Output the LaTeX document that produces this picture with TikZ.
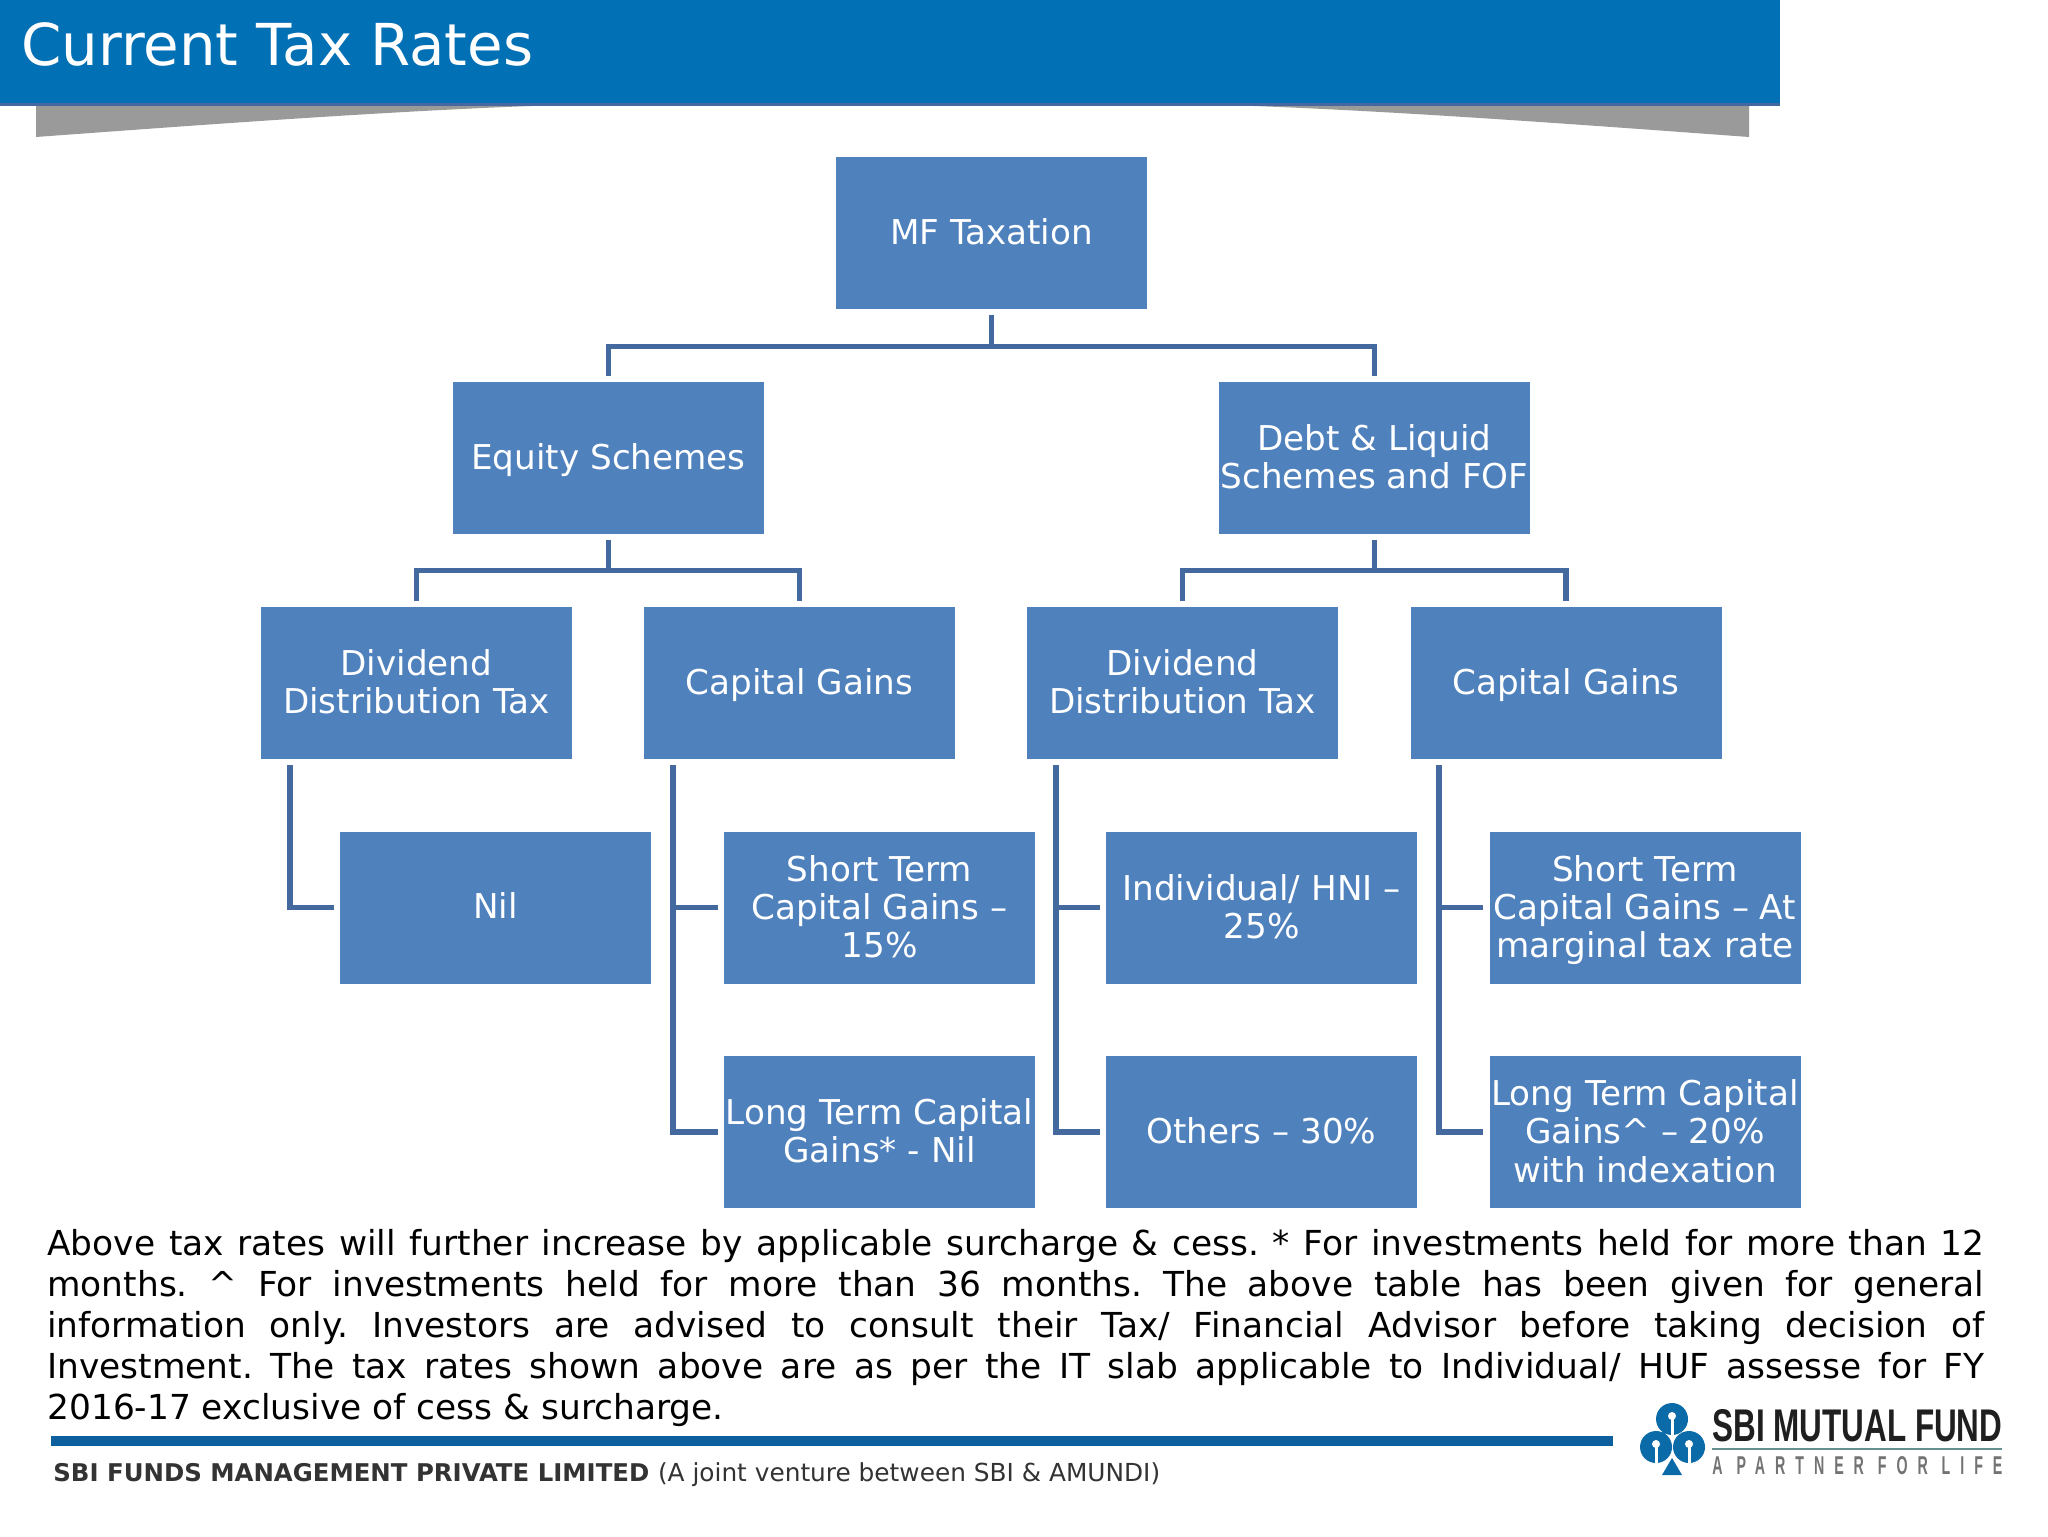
\documentclass[tikz,border=0pt]{standalone}
\usepackage{fontspec}
\usepackage{graphicx}
\setmainfont{DejaVu Sans}
\newfontfamily\logofont{Liberation Sans}
\newfontfamily\logospaced[LetterSpace=70]{Liberation Sans}
\newcommand{\firstln}{\rule{0pt}{17.6pt}}
\definecolor{bannerblue}{HTML}{0270B5}
\definecolor{boxblue}{HTML}{4F81BD}
\definecolor{connblue}{HTML}{44699F}
\definecolor{shadowgrey}{HTML}{9A9A9A}
\definecolor{rulefoot}{HTML}{0E5F9E}
\definecolor{logoblue}{HTML}{0B6AA8}
\tikzset{
  x=0.5pt,y=-0.5pt,
  boxnode/.style={fill=boxblue,text=white,minimum width=155.5pt,minimum height=76pt,inner sep=0pt,align=center,font=\fontsize{17.1}{19.1}\selectfont,execute at begin node={\rule{0pt}{17.2pt}},execute at end node=\strut},
  conn/.style={draw=connblue,line width=2.9pt,shorten <=3pt,shorten >=3pt,line join=miter},
  bodytext/.style={anchor=north west,inner sep=0pt,text width=968.5pt,align=justify,font=\fontsize{17.2}{20.45}\selectfont\frenchspacing},
  foottext/.style={anchor=base west,inner sep=0pt,text=black!80},
  keyhole/.style={fill=white,draw=none}
}
\begin{document}
\begin{tikzpicture}
\useasboundingbox (0,0) rectangle (2048,1536);
\fill[white] (0,0) rectangle (2048,1536);
% banner
\fill[shadowgrey] (36,105) -- (36,137) .. controls (200,125) and (400,110) .. (560,105) -- cycle;
\fill[shadowgrey] (1749,105) -- (1749,137) .. controls (1585,125) and (1385,110) .. (1225,105) -- cycle;
\fill[bannerblue] (0,0) rectangle (1780,105);
\fill[connblue] (0,103) rectangle (1780,106);
\node[anchor=base west,inner sep=0pt,text=white,font=\fontsize{28.9}{32}\selectfont] (title) at (21,66) {Current Tax Rates};
% boxes
\node[boxnode] (mf) at (991.5,233) {MF Taxation};
\node[boxnode] (eq) at (608.5,458) {Equity Schemes};
\node[boxnode] (debt) at (1374.5,458) {\firstln Debt \& Liquid\\Schemes and FOF};
\node[boxnode] (dd1) at (416.5,683) {\firstln Dividend\\Distribution Tax};
\node[boxnode] (cg1) at (799.5,683) {Capital Gains};
\node[boxnode] (dd2) at (1182.5,683) {\firstln Dividend\\Distribution Tax};
\node[boxnode] (cg2) at (1566,683) {Capital Gains};
\node[boxnode] (nil) at (495.5,907.5) {Nil};
\node[boxnode] (st1) at (879.5,907.5) {\firstln Short Term\\Capital Gains --\\15\%};
\node[boxnode] (ind) at (1261.5,907.5) {\firstln Individual/ HNI --\\25\%};
\node[boxnode] (st2) at (1645,907.5) {\firstln Short Term\\Capital Gains -- At\\marginal tax rate};
\node[boxnode] (lt1) at (879.5,1132) {\firstln Long Term Capital\\Gains* - Nil};
\node[boxnode] (oth) at (1261.5,1132) {Others -- 30\%};
\node[boxnode] (lt2) at (1645,1132) {\firstln Long Term Capital\\Gains\textasciicircum{} -- 20\%\\with indexation};
% connectors
\draw[conn] (mf.south) -- ++(0,-18.5pt) -| (eq.north);
\draw[conn] (mf.south) -- ++(0,-18.5pt) -| (debt.north);
\draw[conn] (eq.south) -- ++(0,-18pt) -| (dd1.north);
\draw[conn] (eq.south) -- ++(0,-18pt) -| (cg1.north);
\draw[conn] (debt.south) -- ++(0,-18pt) -| (dd2.north);
\draw[conn] (debt.south) -- ++(0,-18pt) -| (cg2.north);
\draw[conn] ([xshift=14.5pt]dd1.south west) |- (nil.west);
\draw[conn] ([xshift=14.5pt]cg1.south west) |- (st1.west);
\draw[conn] ([xshift=14.5pt]cg1.south west) |- (lt1.west);
\draw[conn] ([xshift=14.5pt]dd2.south west) |- (ind.west);
\draw[conn] ([xshift=14.5pt]dd2.south west) |- (oth.west);
\draw[conn] ([xshift=14.5pt]cg2.south west) |- (st2.west);
\draw[conn] ([xshift=14.5pt]cg2.south west) |- (lt2.west);
% body text
\node[bodytext] (body) at (47,1229) {Above tax rates will further increase by applicable surcharge \& cess. * For investments held for more than 12\linebreak
months. \textasciicircum{} For investments held for more than 36 months. The above table has been given for general\linebreak
information only. Investors are advised to consult their Tax/ Financial Advisor before taking decision of\linebreak
Investment. The tax rates shown above are as per the IT slab applicable to Individual/ HUF assesse for FY\linebreak
2016-17 exclusive of cess \& surcharge.};
% footer
\fill[rulefoot] (51,1436) rectangle (1613,1446);
\node[foottext,font=\fontsize{12.2}{14}\selectfont\bfseries] (foot1) at (53,1481) {SBI FUNDS MANAGEMENT PRIVATE LIMITED};
\node[foottext,font=\fontsize{12.4}{14}\selectfont,anchor=base west] (foot2) at (foot1.base east) {\ (A joint venture between SBI \& AMUNDI)};
% logo
\fill[logoblue] (1672,1419) circle[radius=16] (1656,1447) circle[radius=16] (1689,1447) circle[radius=16];
\fill[logoblue] (1672,1458) -- (1682,1475) -- (1662,1475) -- cycle;
\foreach \cx/\cy in {1672/1419,1656/1447,1689/1447}{
  \fill[keyhole] (\cx,\cy-3) circle[radius=4];
  \fill[keyhole] (\cx-1.5,\cy-3) rectangle (\cx+1.5,\cy+16);
}
\node[anchor=south west,inner sep=0pt,text=black!88] (logo1) at (1712,1442) {\resizebox{145pt}{16pt}{\logofont\bfseries SBI MUTUAL FUND}};
\fill[black!45!teal!60] (1712,1448) rectangle (2002,1450);
\node[anchor=south west,inner sep=0pt,text=black!55] (logo2) at (1712,1475) {\resizebox{145pt}{9pt}{\logospaced\bfseries A PARTNER FOR LIFE}};
\end{tikzpicture}
\end{document}
